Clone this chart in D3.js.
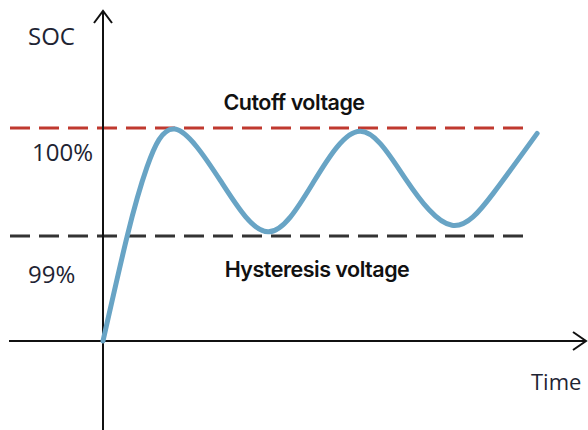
<!DOCTYPE html>
<html>
<head>
<meta charset="utf-8">
<script src="https://cdn.jsdelivr.net/npm/d3@7"></script>
<style>
    body { margin: 0; background: #fff; }
    svg { display: block; }
</style>
</head>
<body>
<svg id="chart" width="588" height="430"></svg>
<script>
// curve: time (arbitrary units) vs SOC (%)
var timeValues = [0, 5.0, 9.1, 14.9, 24.3, 34.1, 43.5, 53.1, 62.5, 72.1, 80.7, 89.7]
var socValues = [98.03, 99.00, 99.64, 99.99, 99.51, 99.04, 99.50, 99.97, 99.53, 99.10, 99.40, 99.95]

var levelNames = ['Cutoff voltage', 'Hysteresis voltage']
var levelValues = [100, 99]
var levelLabels = ['100%', '99%']
var levelColors = ['#c0392f', '#333333']
var axisTitles = ['SOC', 'Time']

var socMin = 98.03
var timeMax = 100
var levelEnd = 88.6

var svg = d3.select('#chart')
var width = 588
var height = 430

var x = d3.scaleLinear()
    .domain([0, timeMax])
    .range([103, 587])

var y = d3.scaleLinear()
    .domain([socMin, 100])
    .range([341, 128])

var x0 = x(0)
var y0 = y(socMin)

// reference levels (dashed)
levelValues.forEach(function(v, i) {
    svg.append('line')
        .attr('x1', 10)
        .attr('x2', x(levelEnd))
        .attr('y1', y(v))
        .attr('y2', y(v))
        .attr('stroke', levelColors[i])
        .attr('stroke-width', 3)
        .attr('stroke-dasharray', '20,9')
})

// axes with open arrow heads
var axes = svg.append('g')
    .attr('stroke', '#111')
    .attr('stroke-width', 2)
    .attr('fill', 'none')

axes.append('line')
    .attr('x1', x0).attr('x2', x0)
    .attr('y1', height).attr('y2', 11)
axes.append('path')
    .attr('d', 'M' + (x0 - 9) + ',' + 23 + 'L' + x0 + ',' + 11 + 'L' + (x0 + 9) + ',' + 23)

axes.append('line')
    .attr('x1', 9).attr('x2', 586)
    .attr('y1', y0).attr('y2', y0)
axes.append('path')
    .attr('d', 'M' + 573 + ',' + (y0 - 9) + 'L' + 586 + ',' + y0 + 'L' + 573 + ',' + (y0 + 9))

// SOC curve
var points = timeValues.map(function(t, i) { return [t, socValues[i]] })
var line = d3.line()
    .x(function(d) { return x(d[0]) })
    .y(function(d) { return y(d[1]) })
    .curve(d3.curveNatural)

svg.append('path')
    .datum(points)
    .attr('fill', 'none')
    .attr('stroke', '#68a4c5')
    .attr('stroke-width', 5)
    .attr('stroke-linecap', 'round')
    .attr('d', line)

// level names
var nameOffsets = [-18, 41]
var nameCenters = [294, 317]
levelNames.forEach(function(name, i) {
    svg.append('text')
        .attr('x', nameCenters[i])
        .attr('y', y(levelValues[i]) + nameOffsets[i])
        .attr('text-anchor', 'middle')
        .style('font-family', 'Inter, "Noto Sans", sans-serif')
        .style('font-weight', 600)
        .style('font-size', '21.5px')
        .style('letter-spacing', '-0.5px')
        .attr('fill', '#111')
        .text(name)
})

// level percentage labels
var labelOffsets = [33, 47]
var labelX = [32, 28]
levelLabels.forEach(function(label, i) {
    svg.append('text')
        .attr('x', labelX[i])
        .attr('y', y(levelValues[i]) + labelOffsets[i])
        .style('font-family', '"Open Sans", sans-serif')
        .style('font-size', '24px')
        .attr('fill', '#1e2433')
        .text(label)
})

// axis titles
svg.append('text')
    .attr('x', 28)
    .attr('y', 45)
    .style('font-family', '"Open Sans", sans-serif')
    .style('font-size', '24px')
    .attr('fill', '#1e2433')
    .text(axisTitles[0])

svg.append('text')
    .attr('x', 531)
    .attr('y', 390)
    .style('font-family', '"Open Sans", sans-serif')
    .style('font-size', '22px')
    .attr('fill', '#1e2433')
    .text(axisTitles[1])
</script>
</body>
</html>
